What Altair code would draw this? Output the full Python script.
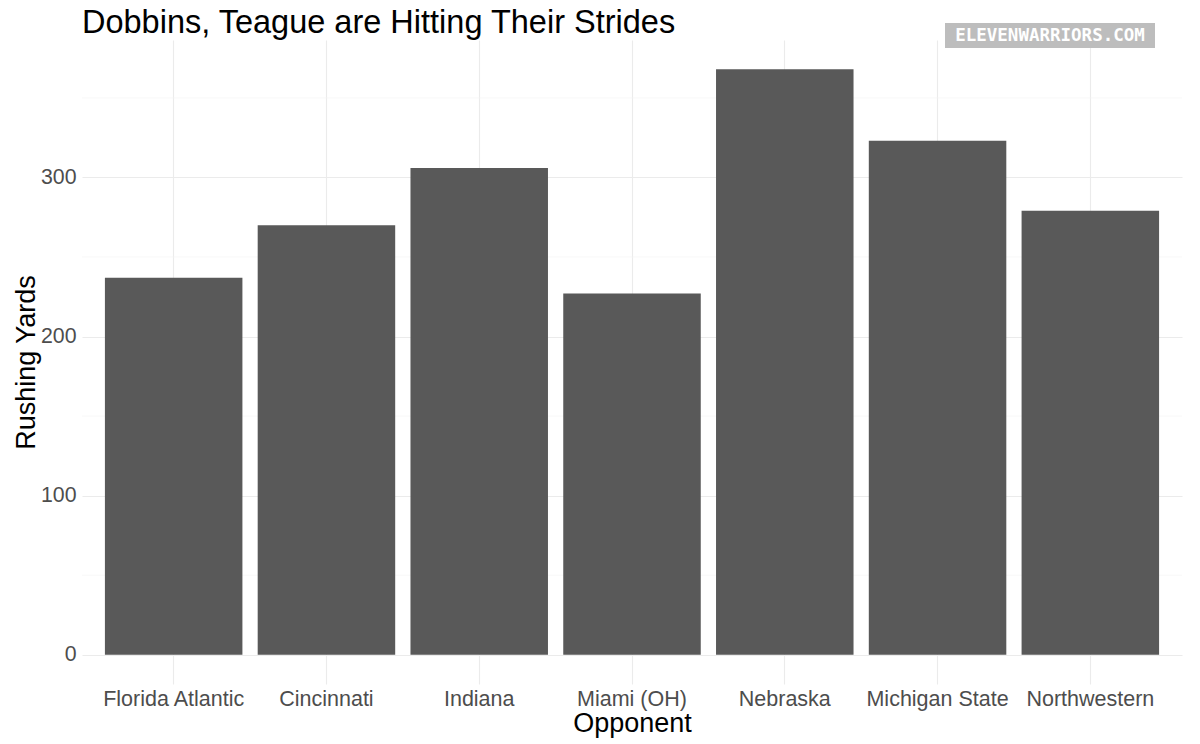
import altair as alt
import pandas as pd

opponents = ["Florida Atlantic", "Cincinnati", "Indiana", "Miami (OH)",
             "Nebraska", "Michigan State", "Northwestern"]
rushing_yards = [237, 270, 306, 227, 368, 323, 279]
major_ticks = [0, 100, 200, 300]
minor_ticks = [50, 150, 250, 350]
y_domain = [-18.4, 386.4]

df = pd.DataFrame({"Opponent": opponents, "Yards": rushing_yards})
minor_df = pd.DataFrame({"v": minor_ticks})
logo_df = pd.DataFrame({"t": ["ELEVENWARRIORS.COM"]})

FONT = "Liberation Sans"

xscale = alt.Scale(domain=opponents, paddingInner=0.1, paddingOuter=0.15)
yscale = alt.Scale(domain=y_domain, nice=False, zero=False)

y_axis = alt.Axis(title="Rushing Yards", values=major_ticks, grid=True,
                  gridColor="#ebebeb", gridWidth=1.1, ticks=False, domain=False,
                  labelFont=FONT, labelFontSize=21.3, labelColor="#4d4d4d",
                  labelPadding=6, titleFont=FONT, titleFontSize=27,
                  titleFontWeight="normal", titleColor="#000000", titlePadding=0)

minor = alt.Chart(minor_df).mark_rule(color="#f4f4f4", strokeWidth=0.6).encode(
    y=alt.Y("v:Q", scale=yscale, axis=y_axis)
)

bars = alt.Chart(df).mark_bar(color="#595959").encode(
    x=alt.X("Opponent:N", scale=xscale, sort=opponents,
            axis=alt.Axis(title="Opponent", grid=True, gridColor="#ebebeb", gridWidth=1.1,
                          ticks=False, domain=False, labelAngle=0,
                          labelFont=FONT, labelFontSize=21.5, labelColor="#4d4d4d",
                          labelPadding=4, titleFont=FONT, titleFontSize=27,
                          titleFontWeight="normal", titleColor="#000000", titlePadding=1)),
    y=alt.Y("Yards:Q", scale=yscale, axis=y_axis),
    y2=alt.datum(0),
)

logo_bg = alt.Chart(logo_df).mark_rect(color="#bdbdbd").encode(
    x=alt.value(863), x2=alt.value(1073), y=alt.value(-17), y2=alt.value(8)
)
logo_txt = alt.Chart(logo_df).mark_text(
    font="DejaVu Sans Mono", fontWeight="bold", fontSize=17.5, color="#ffffff",
    align="center", baseline="middle"
).encode(x=alt.value(968), y=alt.value(-4.5), text="t:N")

chart = alt.layer(minor, bars, logo_bg, logo_txt).properties(
    width=1100, height=644,
    background="white",
    title=alt.TitleParams("Dobbins, Teague are Hitting Their Strides", anchor="start",
                          frame="group",
                          font=FONT, fontSize=32.5, fontWeight="normal", color="#000000",
                          offset=8, dy=24),
    autosize=alt.AutoSizeParams(type="none"),
    padding={"left": 74, "top": 32, "right": 10, "bottom": 62},
).configure_view(stroke=None)

chart.save("out.html", embed_options={"renderer": "svg", "actions": False})
